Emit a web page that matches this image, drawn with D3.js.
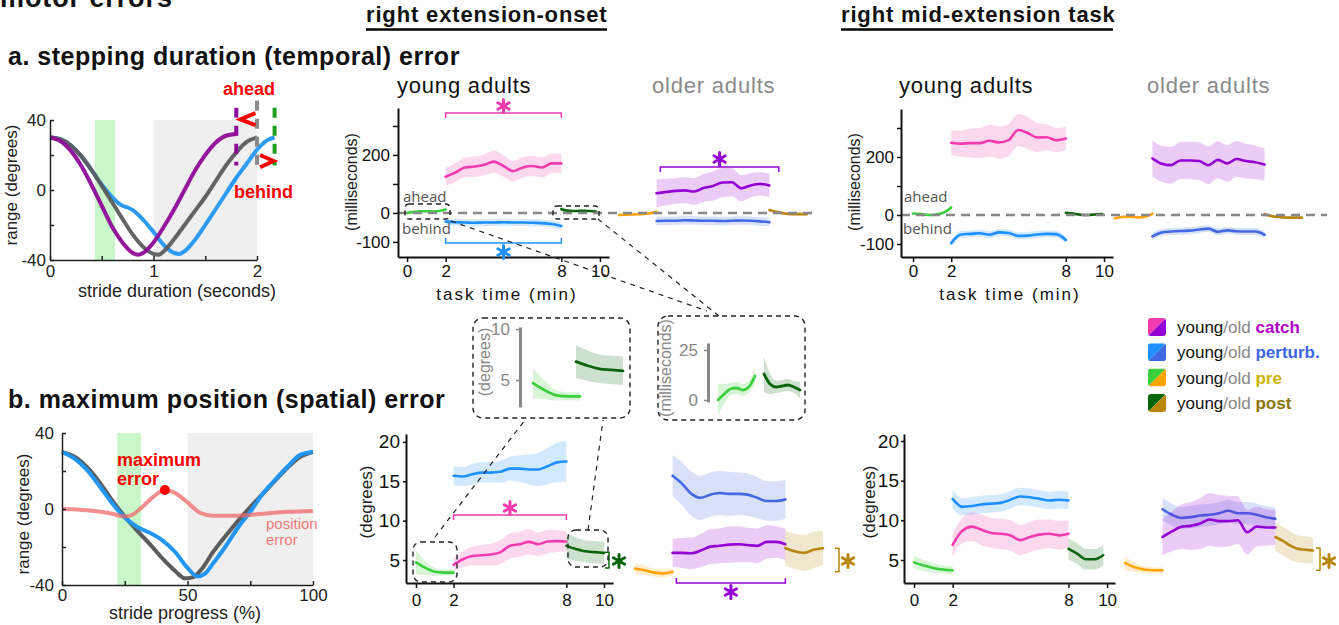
<!DOCTYPE html>
<html>
<head>
<meta charset="UTF-8" />
<title>motor errors</title>
<script src="https://cdn.jsdelivr.net/npm/d3@7"></script>
<style>
  body { margin: 0; background: #fff; }
  svg { display: block; font-family: "Liberation Sans", Arial, sans-serif; }
</style>
</head>
<body>
<svg id="chart" width="1339" height="625"></svg>
<script>
// ---------- a. example stride traces [seconds, degrees]
const strideTemplate = [[0,30],[0.1,29],[0.2,25.5],[0.3,19.5],[0.4,11.5],[0.5,2.5],[0.6,-7],[0.7,-16.5],[0.8,-25.5],[0.9,-32.5],[1.0,-36.5],[1.05,-37],[1.1,-35],[1.2,-28],[1.3,-20],[1.4,-12],[1.5,-4],[1.6,5],[1.7,14],[1.8,21.5],[1.9,27.5],[2.0,30]];
const strideAhead = [[0,30],[0.1,28],[0.2,22.5],[0.3,14],[0.4,3],[0.5,-9],[0.6,-21],[0.7,-30],[0.8,-36],[0.85,-37],[0.9,-36],[1.0,-30],[1.1,-21],[1.2,-11],[1.3,0],[1.4,11],[1.5,20],[1.6,27],[1.7,31],[1.8,32]];
const strideBehind = [[0,30],[0.1,29],[0.2,25.5],[0.3,19.5],[0.4,11.5],[0.5,3],[0.6,-4],[0.65,-7],[0.7,-9],[0.75,-10],[0.8,-11.5],[0.9,-17],[1.0,-24],[1.1,-31.5],[1.2,-36],[1.25,-36.5],[1.3,-35],[1.4,-28.5],[1.5,-20],[1.6,-11],[1.7,-2],[1.8,7],[1.9,15],[2.0,23],[2.1,28.5],[2.17,30]];
const strideEnds = [1.8, 2.0, 2.17];
const perturbWindowA = [0.435, 0.628];

// ---------- b. example stride traces [% stride, degrees]
const progTemplate = [[0,30],[5,27.5],[10,22],[15,14],[20,4.5],[25,-4],[30,-11.5],[35,-18.5],[40,-26],[45,-32.5],[49,-36.5],[52,-36],[56,-31],[60,-23],[65,-14.5],[70,-6.5],[75,1],[80,8],[85,15],[90,22],[95,27.5],[100,30]];
const progPerturbed = [[0,30],[5,26.5],[10,20.5],[15,12],[20,3],[25,-4.5],[30,-9.5],[35,-12.5],[40,-16.5],[45,-22.5],[50,-31],[54,-35.5],[57,-34],[60,-29],[65,-20],[70,-10],[75,-1.5],[80,8],[85,15.5],[90,22.5],[95,28.5],[100,30]];
const progError = [[0,0],[10,-0.7],[20,-2.5],[25,-4],[28,-3],[32,1],[36,6],[41,10],[45,8.5],[50,3.5],[55,-2],[60,-3.5],[70,-3.5],[80,-2.5],[90,-1.5],[100,-1]];
const maxErrorPoint = [41, 10];
const perturbWindowB = [22, 31.5];

// ---------- task-time series, each point = [mean, band half-width]
// temporal error (ms), right extension-onset
const onsetMsYoungPre = [[0,8],[3,5],[5.5,3],[6,3],[5,3],[6.5,3],[12,4]];
const onsetMsYoungCatch = [[125,30],[139,32],[157,33],[160,35],[166,36],[177,38],[162,37],[144,36],[157,36],[162,35],[157,35],[171,34],[171,33]];
const onsetMsYoungPerturb = [[-30,12],[-32,12],[-33,12],[-34,12],[-33,12],[-33,12],[-32,12],[-33,12],[-33,12],[-34,12],[-35,12],[-38,12],[-45,12]];
const onsetMsYoungPost = [[13,9],[8,5],[6.5,3],[7,3],[7.5,3],[6.5,3],[5,4]];
const onsetMsOldPre = [[-7,5],[-6,5],[-5,5],[-4,5],[-2,5],[4,5]];
const onsetMsOldCatch = [[68,48],[72,46],[76,44],[78,45],[74,46],[86,48],[93,50],[105,50],[106,48],[85,45],[95,42],[100,40],[95,40]];
const onsetMsOldPerturb = [[-28,15],[-27,15],[-27,15],[-25,15],[-26,15],[-27,15],[-27,15],[-28,15],[-27,15],[-26,15],[-27,15],[-29,15],[-32,15]];
const onsetMsOldPost = [[10,5],[3,5],[-2,5],[-4,5],[-4,5],[-4,5]];

// temporal error (ms), right mid-extension
const midMsYoungPre = [[5,4],[3,4],[0,4],[2,4],[8,5],[26,6]];
const midMsYoungCatch = [[249,42],[246,45],[248,50],[248,52],[256,55],[250,55],[258,55],[293,55],[283,55],[267,50],[268,45],[258,42],[264,40]];
const midMsYoungPerturb = [[-97,12],[-67,12],[-65,12],[-63,12],[-68,12],[-60,12],[-62,12],[-72,12],[-71,12],[-67,12],[-65,12],[-66,12],[-86,12]];
const midMsYoungPost = [[8,4],[5,4],[1,4],[0,4],[2,4],[3,4]];
const midMsOldPre = [[-11,5],[-7,5],[-6,5],[-8,5],[-6,5],[4,5]];
const midMsOldCatch = [[195,62],[177,62],[172,63],[188,64],[188,65],[186,65],[172,65],[190,64],[178,63],[193,62],[186,60],[182,58],[174,55]];
const midMsOldPerturb = [[-74,12],[-60,12],[-57,12],[-55,12],[-54,12],[-50,12],[-47,12],[-58,12],[-53,12],[-56,12],[-57,12],[-57,12],[-68,12]];
const midMsOldPost = [[3,4],[-4,4],[-7,4],[-9,4],[-9,4],[-9,4]];

// spatial error (degrees), right extension-onset
const onsetDegYoungPre = [[4.7,1.5],[4.0,0.9],[3.5,0.5],[3.4,0.4],[3.4,0.4]];
const onsetDegYoungCatch = [[4.4,0.8],[5.1,1.0],[5.5,1.2],[5.6,1.3],[5.7,1.4],[6.0,1.5],[6.8,1.6],[7.0,1.6],[7.3,1.6],[7.0,1.5],[7.35,1.5],[7.4,1.4],[7.35,1.3]];
const onsetDegYoungPerturb = [[15.7,1.2],[15.6,1.2],[15.9,1.3],[16.1,1.3],[16.1,1.3],[16.2,1.4],[16.6,1.5],[16.6,1.7],[16.5,1.9],[16.5,2.1],[16.9,2.3],[17.4,2.5],[17.5,2.6]];
const onsetDegYoungPost = [[6.8,1.6],[6.4,1.5],[6.1,1.4],[6.0,1.4],[5.9,1.4]];
const onsetDegOldPre = [[3.9,0.7],[3.7,0.6],[3.4,0.5],[3.3,0.5],[3.5,0.5]];
const onsetDegOldCatch = [[5.9,1.8],[5.9,1.9],[5.85,2.0],[6.2,2.1],[6.7,2.2],[6.8,2.2],[6.95,2.3],[7.0,2.3],[6.9,2.2],[6.8,2.2],[7.3,2.1],[7.3,2.0],[7.0,2.0]];
const onsetDegOldPerturb = [[15.7,2.6],[14.7,2.7],[13.4,2.8],[12.9,2.8],[13.3,2.8],[13.5,2.8],[13.4,2.8],[13.4,2.7],[13.3,2.7],[12.9,2.6],[12.5,2.5],[12.5,2.5],[12.7,2.5]];
const onsetDegOldPost = [[6.5,2.2],[6.1,2.2],[5.9,2.3],[6.3,2.3],[6.5,2.2]];

// spatial error (degrees), right mid-extension
const midDegYoungPre = [[4.7,0.8],[4.3,0.7],[4.0,0.6],[3.8,0.5],[3.7,0.5]];
const midDegYoungCatch = [[6.9,1.4],[8.7,1.6],[9.2,1.8],[8.8,1.9],[8.4,1.9],[8.3,1.9],[8.1,1.9],[7.5,1.9],[7.9,1.9],[8.2,1.9],[8.3,1.8],[8.1,1.8],[8.3,1.7]];
const midDegYoungPerturb = [[12.7,1.2],[11.7,1.1],[11.8,1.1],[12.0,1.1],[12.1,1.1],[12.2,1.1],[12.6,1.1],[13.0,1.1],[12.9,1.1],[12.7,1.1],[12.5,1.1],[12.6,1.1],[12.5,1.1]];
const midDegYoungPost = [[6.4,1.3],[5.8,1.3],[5.1,1.3],[5.1,1.3],[5.6,1.3]];
const midDegOldPre = [[4.6,0.8],[4.1,0.6],[3.8,0.4],[3.7,0.4],[3.7,0.4]];
const midDegOldCatch = [[7.9,2.3],[8.6,2.5],[9.2,2.8],[9.3,3.0],[9.6,3.2],[10.1,3.3],[9.9,3.3],[9.9,3.2],[10.0,3.0],[8.5,2.8],[9.2,2.5],[9.1,2.3],[9.1,2.2]];
const midDegOldPerturb = [[11.4,1.4],[10.7,1.4],[10.3,1.4],[10.4,1.4],[10.6,1.4],[10.7,1.4],[10.9,1.4],[11.2,1.4],[10.9,1.4],[10.9,1.4],[10.7,1.4],[10.4,1.4],[10.2,1.4]];
const midDegOldPost = [[7.9,1.8],[7.4,1.8],[6.8,1.8],[6.4,1.7],[6.3,1.7],[6.2,1.6]];

// phases (task minutes) and legend
const phaseNames = ["catch", "perturb.", "pre", "post"];
const youngColors = ["#f03cb0", "#1e90ff", "#3ccf3c", "#0a640a"];
const oldColors = ["#9400d3", "#4169e1", "#ffa500", "#b8860b"];
const phaseWordColors = ["#b000c8", "#3c66e4", "#cbb400", "#8a7606"];
const xTicksTask = [0, 2, 8, 10];

const svg = d3.select("#chart");
const FONT = "'Liberation Sans', Arial, sans-serif";

function text(x, y, s, size, o = {}) {
  return svg.append("text").attr("x", x).attr("y", y).text(s)
    .attr("font-size", size).attr("font-family", o.family || FONT)
    .attr("font-weight", o.bold ? "bold" : null)
    .attr("fill", o.fill || "#111")
    .attr("letter-spacing", o.ls || null)
    .attr("text-anchor", o.anchor || "start");
}
function vtext(x, y, s, size, fill) {
  return svg.append("text").attr("transform", `translate(${x},${y}) rotate(-90)`)
    .attr("text-anchor", "middle").attr("font-size", size).attr("font-family", FONT)
    .attr("fill", fill || "#222").text(s);
}
function styleAxis(g, size, color, textColor, width) {
  g.attr("font-family", FONT).attr("font-size", size);
  g.select(".domain").attr("stroke", color).attr("stroke-width", width || 2);
  g.selectAll(".tick line").attr("stroke", color).attr("stroke-width", 1.5);
  g.selectAll(".tick text").attr("fill", textColor || "#222");
}
function asterisk(x, y, r, color) {
  const g = svg.append("g").attr("transform", `translate(${x},${y})`);
  [90, 30, 150].forEach(a => {
    const c = Math.cos(a * Math.PI / 180) * r, s = Math.sin(a * Math.PI / 180) * r;
    g.append("line").attr("x1", -c).attr("y1", -s).attr("x2", c).attr("y2", s)
      .attr("stroke", color).attr("stroke-width", 3).attr("stroke-linecap", "round");
  });
}
function hBracket(x0, x1, y, dir, color) {
  svg.append("path").attr("d", `M${x0},${y + dir * 5}V${y}H${x1}V${y + dir * 5}`)
    .attr("fill", "none").attr("stroke", color).attr("stroke-width", 1.5);
}
function vBracket(x, y0, y1, color) {
  svg.append("path").attr("d", `M${x - 4},${y0}H${x}V${y1}H${x - 4}`)
    .attr("fill", "none").attr("stroke", color).attr("stroke-width", 1.5);
}
function dashedBox(x, y, w, h, r) {
  svg.append("rect").attr("x", x).attr("y", y).attr("width", w).attr("height", h)
    .attr("rx", r).attr("fill", "none").attr("stroke", "#222")
    .attr("stroke-width", 1.4).attr("stroke-dasharray", "5 4");
}
function dashedLine(x1, y1, x2, y2) {
  svg.append("line").attr("x1", x1).attr("y1", y1).attr("x2", x2).attr("y2", y2)
    .attr("stroke", "#222").attr("stroke-width", 1.2).attr("stroke-dasharray", "5 5");
}

// mean line + shaded band over a task-time span
function series(g, x, y, t0, t1, data, color, lw) {
  const pts = data.map((d, i) => ({ t: t0 + (t1 - t0) * i / (data.length - 1), m: d[0], s: d[1] }));
  g.append("path").datum(pts).attr("fill", color).attr("fill-opacity", 0.2)
    .attr("d", d3.area().x(d => x(d.t)).y0(d => y(d.m - d.s)).y1(d => y(d.m + d.s)).curve(d3.curveMonotoneX));
  g.append("path").datum(pts).attr("fill", "none").attr("stroke", color).attr("stroke-width", lw || 2.6)
    .attr("stroke-linecap", "round")
    .attr("d", d3.line().x(d => x(d.t)).y(d => y(d.m)).curve(d3.curveMonotoneX));
}

// ================= headers
text(0, 7, "motor errors", 27, { bold: true, ls: 0.9 });
[["right extension-onset", 366, 607], ["right mid-extension task", 841, 1113]].forEach(([s, x0, x1]) => {
  text(x0, 22, s, 22, { bold: true, ls: 0.85 });
  svg.append("line").attr("x1", x0).attr("x2", x1).attr("y1", 29.5).attr("y2", 29.5)
    .attr("stroke", "#000").attr("stroke-width", 2.5);
});
text(8, 65, "a. stepping duration (temporal) error", 25, { bold: true, ls: 0.5 });
text(8, 408, "b. maximum position (spatial) error", 25, { bold: true, ls: 0.55 });

// ================= panel a: stride duration
{
  const x = d3.scaleLinear().domain([0, 2]).range([50, 257]);
  const y = d3.scaleLinear().domain([-40, 40]).range([260, 120]);
  svg.append("rect").attr("x", x(1)).attr("y", y(40)).attr("width", x(2) - x(1)).attr("height", y(-40) - y(40)).attr("fill", "#efefef");
  svg.append("rect").attr("x", x(perturbWindowA[0])).attr("y", y(40)).attr("width", x(perturbWindowA[1]) - x(perturbWindowA[0]))
    .attr("height", y(-40) - y(40)).attr("fill", "#c9f7c9");
  const line = d3.line().x(d => x(d[0])).y(d => y(d[1])).curve(d3.curveMonotoneX);
  [[strideBehind, "#2196f3"], [strideTemplate, "#5c5c5c"], [strideAhead, "#8e0a98"]].forEach(([d, c]) => {
    svg.append("path").datum(d).attr("d", line).attr("fill", "none").attr("stroke", c).attr("stroke-width", 4).attr("stroke-opacity", 0.95);
  });
  const gx = svg.append("g").attr("transform", `translate(0,${y(-40)})`)
    .call(d3.axisBottom(x).tickValues([0, 0.5, 1, 1.5, 2]).tickFormat(d => Number.isInteger(d) ? d : "").tickSize(-4).tickPadding(5).tickSizeOuter(0));
  styleAxis(gx, 17, "#222", "#222", 1.5);
  const gy = svg.append("g").attr("transform", `translate(${x(0)},0)`)
    .call(d3.axisLeft(y).tickValues([-40, -20, 0, 20, 40]).tickFormat(d => d % 40 === 0 ? d : "").tickSize(-4).tickPadding(4).tickSizeOuter(0));
  styleAxis(gy, 17, "#222", "#222", 1.5);
  text(177, 297, "stride duration (seconds)", 18, { anchor: "middle", fill: "#222" });
  vtext(17, 185, "range (degrees)", 17);
  // end-of-stride markers
  const endColors = ["#8e0a98", "#8a8a8a", "#1ea01e"];
  strideEnds.forEach((t, i) => {
    svg.append("line").attr("x1", x(t)).attr("x2", x(t)).attr("y1", y(i === 1 ? 51 : 47)).attr("y2", y(i === 1 ? 10 : 14))
      .attr("stroke", endColors[i]).attr("stroke-width", 4).attr("stroke-dasharray", "10 8");
  });
  svg.append("path").attr("d", `M${x(1.985)},${y(44)}L${x(1.84)},${y(40.3)}L${x(1.985)},${y(37)}`)
    .attr("fill", "none").attr("stroke", "#f00").attr("stroke-width", 4);
  svg.append("path").attr("d", `M${x(2.03)},${y(20)}L${x(2.16)},${y(16.6)}L${x(2.03)},${y(13)}`)
    .attr("fill", "none").attr("stroke", "#f00").attr("stroke-width", 4);
  text(223, 95, "ahead", 18, { bold: true, fill: "#f00" });
  text(234, 198, "behind", 18, { bold: true, fill: "#f00" });
}

// ================= panel b: stride progress
{
  const x = d3.scaleLinear().domain([0, 100]).range([62, 313]);
  const y = d3.scaleLinear().domain([-40, 40]).range([585, 433]);
  svg.append("rect").attr("x", x(50)).attr("y", y(40)).attr("width", x(100) - x(50)).attr("height", y(-40) - y(40)).attr("fill", "#efefef");
  svg.append("rect").attr("x", x(perturbWindowB[0])).attr("y", y(40)).attr("width", x(perturbWindowB[1]) - x(perturbWindowB[0]))
    .attr("height", y(-40) - y(40)).attr("fill", "#c9f7c9");
  const line = d3.line().x(d => x(d[0])).y(d => y(d[1])).curve(d3.curveMonotoneX);
  svg.append("path").datum(progTemplate).attr("d", line).attr("fill", "none").attr("stroke", "#5c5c5c").attr("stroke-width", 4);
  svg.append("path").datum(progPerturbed).attr("d", line).attr("fill", "none").attr("stroke", "#2196f3").attr("stroke-width", 4);
  svg.append("path").datum(progError).attr("d", line).attr("fill", "none").attr("stroke", "#f06a6a").attr("stroke-opacity", 0.75).attr("stroke-width", 4);
  svg.append("circle").attr("cx", x(maxErrorPoint[0])).attr("cy", y(maxErrorPoint[1])).attr("r", 5).attr("fill", "#f00");
  const gx = svg.append("g").attr("transform", `translate(0,${y(-40)})`)
    .call(d3.axisBottom(x).tickValues([0, 25, 50, 75, 100]).tickFormat(d => d % 50 === 0 ? d : "").tickSize(-4).tickPadding(4).tickSizeOuter(0));
  styleAxis(gx, 17, "#222", "#222", 1.5);
  const gy = svg.append("g").attr("transform", `translate(${x(0)},0)`)
    .call(d3.axisLeft(y).tickValues([-40, -20, 0, 20, 40]).tickFormat(d => d % 40 === 0 ? d : "").tickSize(-4).tickPadding(8).tickSizeOuter(0));
  styleAxis(gy, 17, "#222", "#222", 1.5);
  text(185, 619, "stride progress (%)", 18, { anchor: "middle", fill: "#222" });
  vtext(29, 514, "range (degrees)", 17);
  text(117, 466, "maximum", 18, { bold: true, fill: "#f00" });
  text(117, 485, "error", 18, { bold: true, fill: "#f00" });
  text(266, 529, "position", 15, { fill: "#f07a7a" });
  text(266, 545, "error", 15, { fill: "#f07a7a" });
}

// ================= task panels
function taskPanel(cfg) {
  const g = svg.append("g");
  const y = d3.scaleLinear().domain(cfg.yDomain).range(cfg.yRange);
  const xY = d3.scaleLinear().domain(cfg.xDomain).range(cfg.xRange);
  const xO = d3.scaleLinear().domain([0, 10]).range(cfg.oldRange);
  const [cat, per, pre, post] = cfg.young;
  const [oCat, oPer, oPre, oPost] = cfg.old;
  series(g, xY, y, 2, 8, per, youngColors[1]);
  series(g, xY, y, 2, 8, cat, youngColors[0]);
  series(g, xY, y, 0, 2, pre, youngColors[2]);
  series(g, xY, y, 8, cfg.postEnd, post, youngColors[3]);
  series(g, xO, y, 2, 8, oPer, oldColors[1]);
  series(g, xO, y, 2, 8, oCat, oldColors[0]);
  series(g, xO, y, 0, 2, oPre, oldColors[2]);
  series(g, xO, y, 8, 10, oPost, oldColors[3]);
  if (cfg.zeroTo) {
    g.append("line").attr("x1", cfg.xRange[0]).attr("x2", cfg.zeroTo).attr("y1", y(0)).attr("y2", y(0))
      .attr("stroke", "#888").attr("stroke-width", 2.5).attr("stroke-dasharray", "9 6");
  }
  const gx = g.append("g").attr("transform", `translate(0,${cfg.yRange[0]})`)
    .call(d3.axisBottom(xY).tickValues(xTicksTask).tickSize(5).tickPadding(cfg.xPad).tickSizeOuter(0));
  styleAxis(gx, 17, "#111", "#111");
  const gy = g.append("g").attr("transform", `translate(${cfg.xRange[0]},0)`)
    .call(d3.axisLeft(y).tickValues(cfg.yTicks).tickFormat(d => cfg.yLabels.includes(d) ? d : "")
      .tickSize(cfg.yTick).tickPadding(cfg.yPad).tickSizeOuter(0));
  styleAxis(gy, cfg.yFont, "#111", "#111");
  return { y, xY, xO };
}

const pOnsetMs = taskPanel({
  yDomain: [-152, 362], yRange: [257, 108], xDomain: [-0.47, 10.47], xRange: [398, 609], oldRange: [619, 807],
  young: [onsetMsYoungCatch, onsetMsYoungPerturb, onsetMsYoungPre, onsetMsYoungPost],
  old: [onsetMsOldCatch, onsetMsOldPerturb, onsetMsOldPre, onsetMsOldPost],
  postEnd: 9.8, zeroTo: 817, yTicks: [-100, 0, 100, 200, 300], yLabels: [-100, 0, 200],
  yTick: 5, yPad: 3, yFont: 17, xPad: 3
});
const pMidMs = taskPanel({
  yDomain: [-144.8, 365.5], yRange: [257, 109], xDomain: [-0.63, 10.47], xRange: [901, 1113], oldRange: [1115, 1302],
  young: [midMsYoungCatch, midMsYoungPerturb, midMsYoungPre, midMsYoungPost],
  old: [midMsOldCatch, midMsOldPerturb, midMsOldPre, midMsOldPost],
  postEnd: 9.9, zeroTo: 1327, yTicks: [-100, 0, 100, 200, 300], yLabels: [-100, 0, 200],
  yTick: 4, yPad: 3, yFont: 17, xPad: 3
});
const pOnsetDeg = taskPanel({
  yDomain: [2.08, 21.0], yRange: [583, 434], xDomain: [-0.53, 10.48], xRange: [406, 613], oldRange: [635, 823],
  young: [onsetDegYoungCatch, onsetDegYoungPerturb, onsetDegYoungPre, onsetDegYoungPost],
  old: [onsetDegOldCatch, onsetDegOldPerturb, onsetDegOldPre, onsetDegOldPost],
  postEnd: 10, zeroTo: null, yTicks: [5, 10, 15, 20], yLabels: [5, 10, 15, 20],
  yTick: 3, yPad: 3, yFont: 19, xPad: 6
});
const pMidDeg = taskPanel({
  yDomain: [2.1, 20.88], yRange: [583, 434], xDomain: [-0.52, 10.41], xRange: [904, 1115], oldRange: [1125, 1313],
  young: [midDegYoungCatch, midDegYoungPerturb, midDegYoungPre, midDegYoungPost],
  old: [midDegOldCatch, midDegOldPerturb, midDegOldPre, midDegOldPost],
  postEnd: 9.8, zeroTo: null, yTicks: [5, 10, 15, 20], yLabels: [5, 10, 15, 20],
  yTick: 3, yPad: 2, yFont: 19, xPad: 6
});

// group titles, axis titles
[[397, 652], [899, 1147]].forEach(([xy, xo]) => {
  text(xy, 93, "young adults", 22, { ls: 0.8 });
  text(xo, 93, "older adults", 22, { ls: 0.8, fill: "#8a8a8a" });
});
text(507, 300, "task time (min)", 17, { anchor: "middle", ls: 2 });
text(1010, 300, "task time (min)", 17, { anchor: "middle", ls: 2 });
vtext(357, 182, "(milliseconds)", 16);
vtext(860, 182, "(milliseconds)", 16);
vtext(372, 502, "(degrees)", 17);
vtext(875, 502, "(degrees)", 17);
[403, 904].forEach(x => {
  text(x, 202, "ahead", 15, { family: "'Open Sans', sans-serif", fill: "#555" });
  text(x - 1, 234, "behind", 15, { family: "'Open Sans', sans-serif", fill: "#555" });
});

// significance marks
{
  const p = pOnsetMs;
  hBracket(p.xY(2), p.xY(8), 113, 1, youngColors[0]);
  asterisk((p.xY(2) + p.xY(8)) / 2, 106, 6.5, youngColors[0]);
  hBracket(p.xY(2), p.xY(8), 243, -1, youngColors[1]);
  asterisk((p.xY(2) + p.xY(8)) / 2, 252, 6.5, youngColors[1]);
  hBracket(p.xO(2.2), p.xO(8.5), 167, 1, oldColors[0]);
  asterisk((p.xO(2.2) + p.xO(8.5)) / 2, 159, 6.5, oldColors[0]);
  const q = pOnsetDeg;
  hBracket(q.xY(2), q.xY(8), 515, 1, youngColors[0]);
  asterisk((q.xY(2) + q.xY(8)) / 2, 508, 6.5, youngColors[0]);
  vBracket(609, q.y(6.0), q.y(4.0), youngColors[3]);
  asterisk(619, 561, 6.5, youngColors[3]);
  hBracket(q.xO(2.2), q.xO(8), 583, -1, oldColors[0]);
  asterisk((q.xO(2.2) + q.xO(8)) / 2, 592, 6.5, oldColors[0]);
  vBracket(839, q.y(6.5), q.y(3.5), oldColors[3]);
  asterisk(848, 561, 6.5, oldColors[3]);
  const r = pMidDeg;
  vBracket(1320, r.y(6.5), r.y(3.7), oldColors[3]);
  asterisk(1329, 561, 6.5, oldColors[3]);
}

// zoom boxes + insets
dashedBox(405, 204, 45, 15, 4);
dashedBox(553, 206, 46, 13, 4);
dashedBox(413, 542, 44, 40, 8);
dashedBox(568, 530, 40, 37, 8);
dashedLine(451, 221, 707, 311);
dashedLine(598, 219, 719, 316);
dashedLine(435, 537, 525, 420);
dashedLine(588, 530, 603, 420);
dashedBox(473, 318, 157, 100, 10);
dashedBox(658, 316, 147, 104, 10);
{
  // left inset: spatial pre/post (young, extension-onset)
  const y = d3.scaleLinear().domain([2.35, 10.2]).range([407, 327]);
  const g = svg.append("g");
  series(g, d3.scaleLinear().domain([0, 2]).range([533, 580]), y, 0, 2, onsetDegYoungPre, youngColors[2], 2.8);
  series(g, d3.scaleLinear().domain([8, 10]).range([576, 623]), y, 8, 10, onsetDegYoungPost, youngColors[3], 2.8);
  const ga = svg.append("g").attr("transform", "translate(520,0)")
    .call(d3.axisLeft(y).tickValues([5, 10]).tickSize(4).tickPadding(6).tickSizeOuter(0));
  styleAxis(ga, 17, "#888", "#888", 3);
  vtext(490, 362, "(degrees)", 16, "#888");
  // right inset: temporal pre/post (young, extension-onset)
  const y2 = d3.scaleLinear().domain([-1, 28.5]).range([402, 343]);
  const g2 = svg.append("g");
  series(g2, d3.scaleLinear().domain([0, 2]).range([718, 755]), y2, 0, 2, onsetMsYoungPre, youngColors[2], 2.8);
  series(g2, d3.scaleLinear().domain([8, 10]).range([764, 800]), y2, 8, 10, onsetMsYoungPost, youngColors[3], 2.8);
  const gb = svg.append("g").attr("transform", "translate(708,0)")
    .call(d3.axisLeft(y2).tickValues([0, 25]).tickSize(4).tickPadding(6).tickSizeOuter(0));
  styleAxis(gb, 17, "#888", "#888", 3);
  vtext(671, 368, "(milliseconds)", 16, "#888");
}

// legend
{
  const defs = svg.append("defs");
  defs.append("clipPath").attr("id", "sw").append("rect").attr("width", 18).attr("height", 18).attr("rx", 3);
  phaseNames.forEach((name, i) => {
    const cy = 327 + i * 25.3;
    const sw = svg.append("g").attr("transform", `translate(1148,${cy - 9})`).attr("clip-path", "url(#sw)");
    sw.append("path").attr("d", "M0,0H18L0,18Z").attr("fill", youngColors[i]);
    sw.append("path").attr("d", "M18,0V18H0Z").attr("fill", oldColors[i]);
    const t = svg.append("text").attr("x", 1177).attr("y", cy + 6).attr("font-size", 17).attr("font-family", FONT);
    t.append("tspan").attr("fill", "#111").text("young");
    t.append("tspan").attr("fill", "#888").text("/old ");
    t.append("tspan").attr("fill", phaseWordColors[i]).attr("font-weight", "bold").text(name);
  });
}
</script>
</body>
</html>
